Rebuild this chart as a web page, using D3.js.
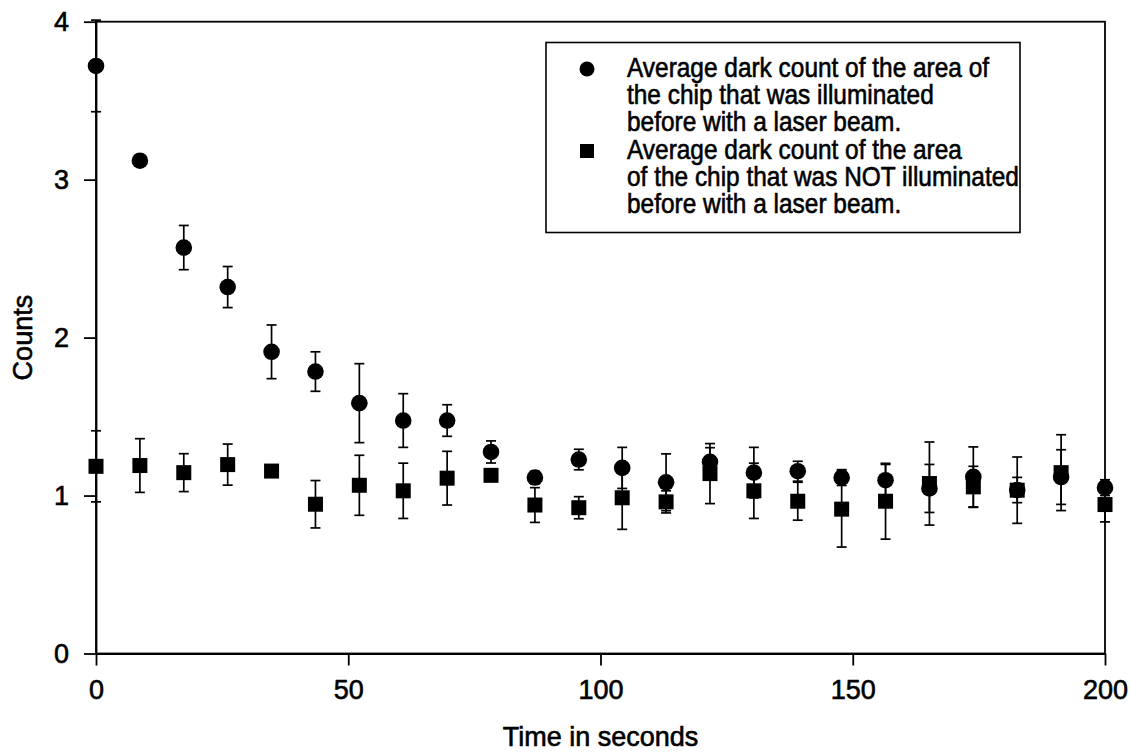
<!DOCTYPE html>
<html>
<head>
<meta charset="utf-8">
<script src="https://cdn.jsdelivr.net/npm/d3@7"></script>
<style>
  html, body { margin: 0; padding: 0; background: #fff; }
  svg { display: block; }
</style>
</head>
<body>
<svg id="chart" width="1131" height="753"></svg>
<script>
// ---- data ----
const times = [0, 8.7, 17.4, 26.1, 34.8, 43.5, 52.2, 60.9, 69.6, 78.3, 87, 95.7, 104.3, 113, 121.7, 130.4, 139.1, 147.8, 156.5, 165.2, 173.9, 182.6, 191.3, 200];
const illuminated = [3.72, 3.12, 2.57, 2.32, 1.91, 1.785, 1.585, 1.475, 1.475, 1.276, 1.114, 1.228, 1.175, 1.084, 1.213, 1.145, 1.154, 1.114, 1.097, 1.045, 1.118, 1.035, 1.117, 1.05];
const illuminatedErr = [0.29, 0, 0.14, 0.13, 0.17, 0.125, 0.25, 0.17, 0.10, 0.07, 0.04, 0.065, 0.13, 0.18, 0.09, 0.16, 0.063, 0.05, 0.10, 0.152, 0.19, 0.08, 0.173, 0.05];
const notIlluminated = [1.185, 1.19, 1.145, 1.196, 1.155, 0.945, 1.065, 1.03, 1.11, 1.128, 0.94, 0.923, 0.986, 0.96, 1.139, 1.03, 0.964, 0.914, 0.964, 1.076, 1.055, 1.034, 1.145, 0.943];
const notIlluminatedErr = [0.225, 0.17, 0.12, 0.13, 0, 0.15, 0.19, 0.175, 0.17, 0.03, 0.11, 0.07, 0.2, 0.07, 0.19, 0.175, 0.12, 0.24, 0.24, 0.263, 0.13, 0.21, 0.24, 0.11];
const xTicks = [0, 50, 100, 150, 200];
const yTicks = [0, 1, 2, 3, 4];
const xTitle = "Time in seconds";
const yTitle = "Counts";
const legendIlluminated = ["Average dark count of the area of", "the chip that was illuminated", "before with a laser beam."];
const legendNotIlluminated = ["Average dark count of the area", "of the chip that was NOT illuminated", "before with a laser beam."];

// ---- layout ----
const L = 96, R = 1105, T = 21.7, B = 653.5;
const FONT = "'Liberation Sans', Arial, sans-serif";
const svg = d3.select("#chart");
svg.append("rect").attr("width", 1131).attr("height", 753).attr("fill", "#fff");

const x = d3.scaleLinear().domain([0, 200]).range([L, R]);
const y = d3.scaleLinear().domain([0, 4]).range([B, T]);

function heavy(sel) {
  return sel.attr("fill", "#000").attr("stroke", "#000").attr("stroke-width", 0.6);
}

// frame
svg.append("rect").attr("x", L).attr("y", T).attr("width", R - L).attr("height", B - T)
  .attr("fill", "none").attr("stroke", "#000").attr("stroke-width", 1.8);

// axes
const xAxis = svg.append("g").attr("transform", `translate(0,${B})`)
  .call(d3.axisBottom(x).tickValues(xTicks).tickSize(12).tickSizeOuter(0).tickPadding(14).tickFormat(d3.format("d")));
const yAxis = svg.append("g").attr("transform", `translate(${L},0)`)
  .call(d3.axisLeft(y).tickValues(yTicks).tickSize(12).tickSizeOuter(0).tickPadding(15).tickFormat(d3.format("d")));
[xAxis, yAxis].forEach(g => {
  g.select(".domain").attr("stroke", "#000").attr("stroke-width", 1.8);
  g.selectAll(".tick line").attr("stroke", "#000").attr("stroke-width", 1.8);
  heavy(g.selectAll(".tick text")).style("font-family", FONT).style("font-size", "27px");
});

// titles
heavy(svg.append("text").attr("x", (L + R) / 2).attr("y", 746).attr("text-anchor", "middle")
  .style("font-family", FONT).style("font-size", "27px")).text(xTitle);
heavy(svg.append("text").attr("transform", `translate(32,${(T + B) / 2}) rotate(-90)`).attr("text-anchor", "middle")
  .style("font-family", FONT).style("font-size", "27px")).text(yTitle);

// series
function errBars(vals, errs) {
  const g = svg.append("g").attr("stroke", "#000").attr("stroke-width", 1.7);
  times.forEach((t, i) => {
    const e = errs[i];
    if (!e) return;
    const cx = x(t), y1 = y(vals[i] - e), y2 = y(vals[i] + e);
    g.append("line").attr("x1", cx).attr("x2", cx).attr("y1", y1).attr("y2", y2);
    g.append("line").attr("x1", cx - 5).attr("x2", cx + 5).attr("y1", y1).attr("y2", y1);
    g.append("line").attr("x1", cx - 5).attr("x2", cx + 5).attr("y1", y2).attr("y2", y2);
  });
}
errBars(illuminated, illuminatedErr);
errBars(notIlluminated, notIlluminatedErr);

svg.append("g").selectAll("rect").data(times).join("rect")
  .attr("x", (d) => x(d) - 7.5).attr("y", (d, i) => y(notIlluminated[i]) - 7.5)
  .attr("width", 15).attr("height", 15).attr("fill", "#000");
svg.append("g").selectAll("circle").data(times).join("circle")
  .attr("cx", (d) => x(d)).attr("cy", (d, i) => y(illuminated[i])).attr("r", 8.3).attr("fill", "#000");

// legend
const lg = svg.append("g");
lg.append("rect").attr("x", 546).attr("y", 42.5).attr("width", 474).attr("height", 190)
  .attr("fill", "#fff").attr("stroke", "#000").attr("stroke-width", 1.6);
const base1 = [77, 104, 131], base2 = [159, 186, 213];
lg.append("circle").attr("cx", 587).attr("cy", base1[0] - 8).attr("r", 7.5).attr("fill", "#000");
lg.append("rect").attr("x", 580).attr("y", base2[0] - 15).attr("width", 14).attr("height", 14).attr("fill", "#000");
function legendText(lines, bases) {
  lines.forEach((s, i) => heavy(lg.append("text")
    .attr("transform", `translate(627,${bases[i]}) scale(0.905,1)`)
    .style("font-family", FONT).style("font-size", "27px")).text(s));
}
legendText(legendIlluminated, base1);
legendText(legendNotIlluminated, base2);
</script>
</body>
</html>
